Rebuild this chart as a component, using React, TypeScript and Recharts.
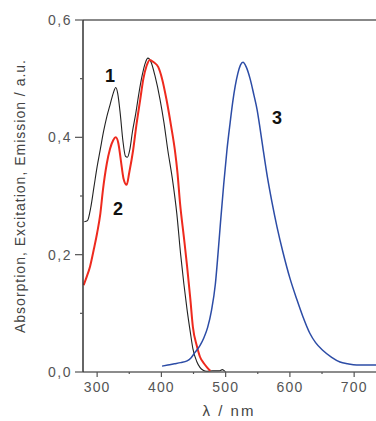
import React from 'react';
import { LineChart, Line, XAxis, YAxis, ReferenceLine } from 'recharts';

// curve 1: absorption (black)
const ABS_NM = [280, 285, 290, 295, 300, 305, 310, 315, 320, 325, 329, 332, 336, 340, 344, 347, 351, 355, 360, 365, 370, 375, 379, 384, 390, 398, 404, 410, 417, 424, 430, 435, 440, 445, 449, 455, 460, 465, 470, 480, 490, 495, 500];
const ABS_VAL = [0.256, 0.258, 0.28, 0.315, 0.35, 0.38, 0.41, 0.435, 0.455, 0.475, 0.485, 0.475, 0.44, 0.395, 0.368, 0.366, 0.38, 0.41, 0.44, 0.475, 0.505, 0.527, 0.535, 0.528, 0.505, 0.464, 0.425, 0.378, 0.33, 0.27, 0.2, 0.15, 0.106, 0.068, 0.04, 0.018, 0.008, 0.003, 0.001, 0.002, 0.002, 0.004, 0];

// curve 2: excitation (red)
const EXC_NM = [279, 283, 289, 295, 300, 305, 309, 315, 320, 325, 329, 333, 337, 341, 346, 350, 356, 361, 367, 372, 377, 382, 388, 395, 401, 408, 415, 421, 425, 429, 435, 440, 445, 449, 455, 460, 466, 471, 476];
const EXC_VAL = [0.148, 0.16, 0.18, 0.21, 0.237, 0.27, 0.31, 0.355, 0.38, 0.395, 0.4, 0.39, 0.36, 0.33, 0.319, 0.34, 0.378, 0.42, 0.464, 0.5, 0.522, 0.532, 0.528, 0.52, 0.5, 0.464, 0.42, 0.378, 0.34, 0.288, 0.23, 0.18, 0.125, 0.077, 0.045, 0.026, 0.015, 0.008, 0.002];

// curve 3: emission (blue)
const EMI_NM = [401, 410, 420, 430, 440, 446, 452, 460, 466, 472, 478, 484, 488, 492, 497, 502, 507, 511, 515, 519, 523, 527, 532, 538, 544, 549, 554, 558, 565, 572, 580, 589, 600, 611, 620, 631, 640, 651, 665, 678, 690, 704, 720, 734];
const EMI_VAL = [0.01, 0.012, 0.014, 0.016, 0.019, 0.024, 0.033, 0.045, 0.058, 0.076, 0.105, 0.15, 0.2, 0.255, 0.32, 0.378, 0.425, 0.46, 0.488, 0.509, 0.523, 0.528, 0.52, 0.5, 0.472, 0.447, 0.412, 0.382, 0.332, 0.29, 0.247, 0.205, 0.16, 0.123, 0.095, 0.066, 0.05, 0.037, 0.025, 0.017, 0.014, 0.012, 0.012, 0.012];

const X_TICKS = [300, 350, 400, 450, 500, 550, 600, 650, 700];
const Y_TICKS = [0, 0.1, 0.2, 0.3, 0.4, 0.5, 0.6];

const toPoints = (xs: number[], ys: number[]) => xs.map((x, i) => ({ x, y: ys[i] }));

const FONT = '"Liberation Sans", Arial, sans-serif';
const TICK_COLOR = '#555';

function XTick(props: any) {
    const { x, y, payload } = props;
    const major = payload.value % 100 === 0;
    return (
        <g>
            <line x1={x} y1={y} x2={x} y2={y + (major ? 5 : 2)} stroke={TICK_COLOR} strokeWidth={1.2} />
            {major && (
                <text x={x} y={y + 20} textAnchor="middle" fill={TICK_COLOR} fontSize={14} letterSpacing={1.2} fontFamily={FONT}>
                    {payload.value}
                </text>
            )}
        </g>
    );
}

function YTick(props: any) {
    const { x, y, payload } = props;
    const major = Math.round(payload.value * 10) % 2 === 0;
    return (
        <g>
            <line x1={x - (major ? 8 : 3)} y1={y} x2={x} y2={y} stroke={TICK_COLOR} strokeWidth={1.2} />
            {major && (
                <text x={x - 11} y={y} dy="0.35em" textAnchor="end" fill={TICK_COLOR} fontSize={14} letterSpacing={1.5} fontFamily={FONT}>
                    {payload.value.toFixed(1).replace('.', ',')}
                </text>
            )}
        </g>
    );
}

const numLabel: React.CSSProperties = {
    position: 'absolute', fontFamily: FONT, fontWeight: 700, fontSize: 18, color: '#111', lineHeight: 1,
};

export default function App() {
    return (
        <div style={{ position: 'absolute', left: 0, top: 0, width: 376, height: 421, background: '#fff', overflow: 'hidden' }}>
            <LineChart width={376} height={421} margin={{ top: 20, right: 0, bottom: 0, left: 0 }}>
                <XAxis type="number" dataKey="x" domain={[278, 734]} allowDataOverflow ticks={X_TICKS} interval={0}
                    height={49} tickSize={0} tickMargin={0} tickLine={false} tick={<XTick />}
                    axisLine={{ stroke: '#666', strokeWidth: 1.5 }} />
                <YAxis type="number" dataKey="y" domain={[0, 0.6]} allowDataOverflow ticks={Y_TICKS} interval={0}
                    width={83} tickSize={0} tickMargin={0} tickLine={false} tick={<YTick />}
                    axisLine={{ stroke: '#333', strokeWidth: 1.5 }} />
                <ReferenceLine y={0.6} stroke="#888" strokeWidth={2} />
                <Line data={toPoints(ABS_NM, ABS_VAL)} dataKey="y" type="monotone" stroke="#222" strokeWidth={1.1} dot={false} isAnimationActive={false} />
                <Line data={toPoints(EXC_NM, EXC_VAL)} dataKey="y" type="monotone" stroke="#ee2a1e" strokeWidth={2} dot={false} isAnimationActive={false} />
                <Line data={toPoints(EMI_NM, EMI_VAL)} dataKey="y" type="monotone" stroke="#2c4ca6" strokeWidth={1.5} dot={false} isAnimationActive={false} />
            </LineChart>
            <div style={{ ...numLabel, left: 105, top: 67 }}>1</div>
            <div style={{ ...numLabel, left: 113, top: 200 }}>2</div>
            <div style={{ ...numLabel, left: 272, top: 109 }}>3</div>
            <div style={{
                position: 'absolute', left: 20, top: 196, transform: 'translate(-50%, -50%) rotate(-90deg)',
                whiteSpace: 'nowrap', fontFamily: FONT, fontSize: 14, letterSpacing: 1, color: '#444',
            }}>
                Absorption, Excitation, Emission / a.u.
            </div>
            <div style={{
                position: 'absolute', left: 229, top: 410, transform: 'translate(-50%, -50%)',
                whiteSpace: 'nowrap', fontFamily: FONT, fontSize: 15, letterSpacing: 2, color: '#444',
            }}>
                λ / nm
            </div>
        </div>
    );
}
